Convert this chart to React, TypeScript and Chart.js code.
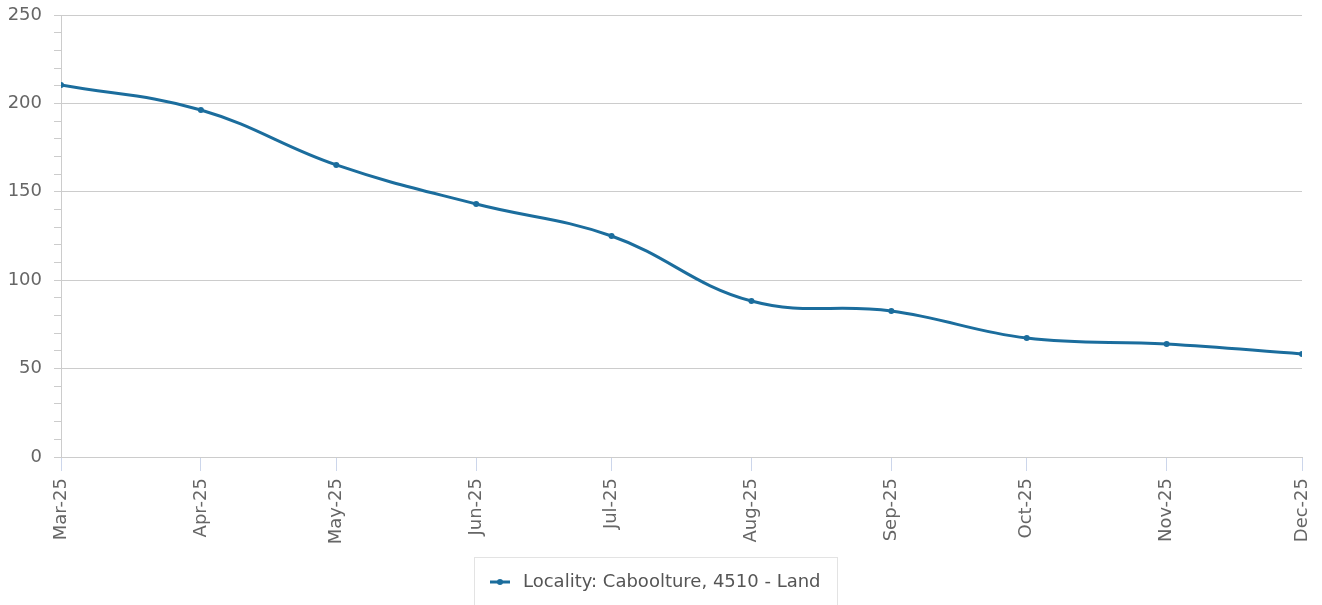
import React, { useEffect, useRef } from 'react';
import { Chart, registerables } from 'chart.js';

Chart.register(...registerables);

const dates = [
  '2025-03-01', '2025-04-01', '2025-05-01', '2025-06-01', '2025-07-01',
  '2025-08-01', '2025-09-01', '2025-10-01', '2025-11-01', '2025-12-01',
];
const monthLabels = [
  'Mar-25', 'Apr-25', 'May-25', 'Jun-25', 'Jul-25',
  'Aug-25', 'Sep-25', 'Oct-25', 'Nov-25', 'Dec-25',
];
const values = [210.4, 196.3, 165.2, 143.1, 125.0, 88.2, 82.6, 67.3, 63.9, 58.3];
const seriesLabel = 'Locality: Caboolture, 4510 - Land';
const yMin = 0;
const yMax = 250;
const yMajorStep = 50;
const yMinorStep = 10;

const LINE_COLOR = '#1b6d9d';
const FONT = "'DejaVu Sans', sans-serif";
const FONT_SIZE = 18;

export default function App() {
  const ref = useRef<HTMLCanvasElement>(null);

  useEffect(() => {
    document.body.style.margin = '0';
    const canvas = ref.current;
    if (!canvas) return;
    const dayMs = 86400000;
    const start = new Date(dates[0] + 'T00:00:00Z').getTime();
    const xs = dates.map((d) => (new Date(d + 'T00:00:00Z').getTime() - start) / dayMs);

    const legendPlugin = {
      id: 'boxLegend',
      afterDraw(chart: any) {
        const ctx = chart.ctx as CanvasRenderingContext2D;
        const label = chart.data.datasets[0].label as string;
        ctx.save();
        ctx.font = `${FONT_SIZE}px ${FONT}`;
        const tw = ctx.measureText(label).width;
        const symW = 20, gap = 13, padX = 16;
        const boxW = Math.round(padX + symW + gap + tw + padX);
        const cx = 655;
        const left = Math.round(cx - boxW / 2) + 0.5;
        const top = 557.5;
        ctx.strokeStyle = '#e3e3e3';
        ctx.lineWidth = 1;
        ctx.strokeRect(left, top, boxW, 60);
        const cy = 582;
        const sx = left - 0.5 + padX;
        ctx.strokeStyle = LINE_COLOR;
        ctx.lineWidth = 3;
        ctx.beginPath();
        ctx.moveTo(sx, cy);
        ctx.lineTo(sx + symW, cy);
        ctx.stroke();
        ctx.fillStyle = LINE_COLOR;
        ctx.beginPath();
        ctx.arc(sx + symW / 2, cy, 3, 0, Math.PI * 2);
        ctx.fill();
        ctx.fillStyle = '#555555';
        ctx.textBaseline = 'middle';
        ctx.textAlign = 'left';
        ctx.fillText(label, sx + symW + gap, cy);
        ctx.restore();
      },
    };

    const chart = new Chart(canvas, {
      type: 'line',
      data: {
        datasets: [
          {
            label: seriesLabel,
            data: xs.map((x, i) => ({ x, y: values[i] })),
            borderColor: LINE_COLOR,
            backgroundColor: LINE_COLOR,
            borderWidth: 3,
            pointRadius: 3,
            pointHoverRadius: 3,
            pointBackgroundColor: LINE_COLOR,
            pointBorderWidth: 0,
            tension: 0.4,
            fill: false,
          },
        ],
      },
      options: {
        responsive: false,
        animation: false,
        devicePixelRatio: 1,
        layout: { padding: { top: 15, right: 20, bottom: 0, left: 0 } },
        plugins: {
          legend: { display: false },
          tooltip: { enabled: false },
        },
        scales: {
          x: {
            type: 'linear',
            min: xs[0],
            max: xs[xs.length - 1],
            afterBuildTicks: (scale: any) => {
              scale.ticks = xs.map((v) => ({ value: v }));
            },
            afterFit: (scale: any) => {
              scale.height = 148;
              scale.paddingLeft = 0;
              scale.paddingRight = 0;
            },
            ticks: {
              autoSkip: false,
              minRotation: 90,
              maxRotation: 90,
              padding: 7,
              color: '#666666',
              font: { family: FONT, size: FONT_SIZE },
              callback: (v: any) => {
                const idx = xs.indexOf(Number(v));
                return idx >= 0 ? monthLabels[idx] : '';
              },
            },
            grid: {
              drawOnChartArea: false,
              drawTicks: true,
              tickLength: 14,
              tickColor: '#ccd6eb',
              color: '#ccd6eb',
            },
            border: { display: true, color: '#cccccc', width: 1 },
          },
          y: {
            type: 'linear',
            min: yMin,
            max: yMax,
            afterFit: (scale: any) => {
              scale.width = 61;
              scale.paddingTop = 0;
              scale.paddingBottom = 0;
            },
            ticks: {
              stepSize: yMinorStep,
              autoSkip: false,
              padding: 12,
              color: '#666666',
              font: { family: FONT, size: FONT_SIZE },
              callback: (v: any) => (Number(v) % yMajorStep === 0 ? String(v) : ''),
            },
            grid: {
              drawTicks: true,
              tickLength: 7,
              color: (ctx: any) =>
                ctx.tick && ctx.tick.value % yMajorStep === 0 ? '#cccccc' : 'rgba(0,0,0,0)',
              tickColor: '#cccccc',
            },
            border: { display: true, color: '#cccccc', width: 1 },
          },
        },
      },
      plugins: [legendPlugin],
    });

    return () => chart.destroy();
  }, []);

  return <canvas ref={ref} width={1322} height={605} style={{ display: 'block' }} />;
}
